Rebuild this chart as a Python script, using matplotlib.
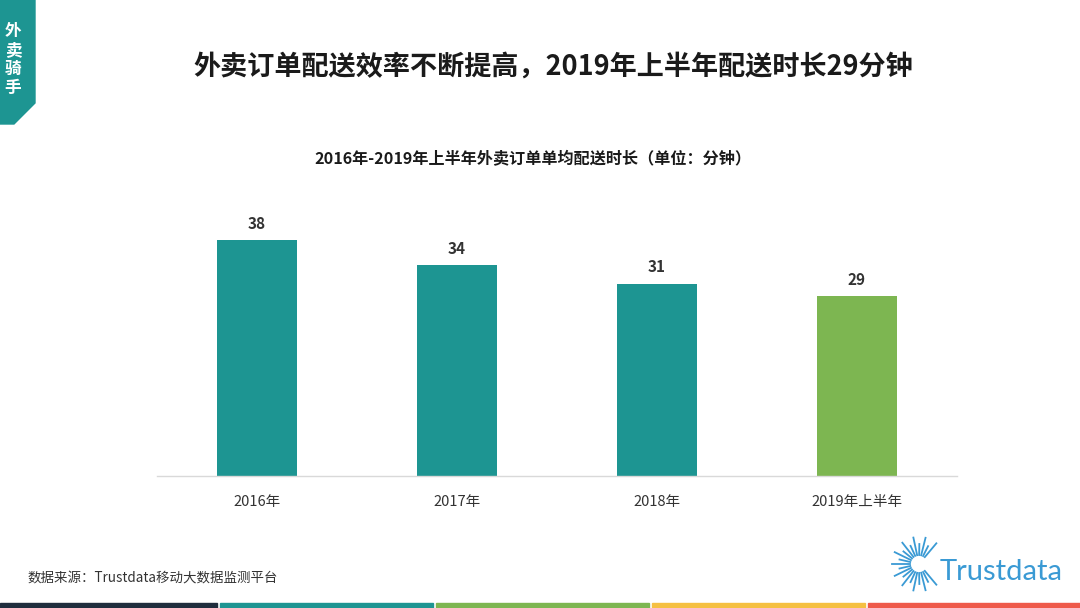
import matplotlib
matplotlib.use("Agg")
import matplotlib.pyplot as plt
from matplotlib.patches import Polygon, Rectangle
import numpy as np

plt.rcParams['font.family'] = ['Noto Sans CJK SC', 'DejaVu Sans']

categories = ["2016年", "2017年", "2018年", "2019年上半年"]
values = [38, 34, 31, 29]
bar_colors = ["#1d9592", "#1d9592", "#1d9592", "#7db651"]

title = "外卖订单配送效率不断提高，2019年上半年配送时长29分钟"
subtitle = "2016年-2019年上半年外卖订单单均配送时长（单位：分钟）"
source = "数据来源：Trustdata移动大数据监测平台"
strip_colors = ["#1f2d3d", "#1d9592", "#7db651", "#f5c042", "#ee5a4a"]

W, H = 1080, 608
fig = plt.figure(figsize=(W / 100, H / 100), dpi=100)

def fx(x):
  return x / W
def fy(y):
  return 1 - y / H

# main bar chart, baseline at y=476px, 800px wide
ax = fig.add_axes([fx(157), fy(476), fx(800), 248 / H])
x = np.arange(len(categories))
ax.bar(x, values, width=0.4, color=bar_colors, zorder=2)
for xi, v in zip(x, values):
  ax.annotate(str(v), (xi, v), xytext=(0, 6), textcoords="offset points",
              ha="center", va="bottom", fontsize=11, fontweight="bold", color="#333333")
ax.set_xlim(-0.5, len(categories) - 0.5)
ax.set_ylim(0, 40)
ax.set_xticks(x)
ax.set_xticklabels(categories, fontsize=10.5, color="#333333")
ax.tick_params(axis="x", length=0, pad=14)
ax.set_yticks([])
for s in ["top", "right", "left"]:
  ax.spines[s].set_visible(False)
ax.spines["bottom"].set_color("#d9d9d9")
ax.spines["bottom"].set_linewidth(1)

# titles
fig.text(fx(553), fy(67), title, ha="center", va="center", fontsize=19.5,
         fontweight="bold", color="#1a1a1a")
fig.text(fx(533), fy(159), subtitle, ha="center", va="center", fontsize=11.6,
         fontweight="bold", color="#1a1a1a")
fig.text(fx(27), fy(578), source, ha="left", va="center", fontsize=9.7, color="#333333")

# left tag
tag = Polygon([[0, 1], [fx(35), 1], [fx(35), fy(103)], [fx(14), fy(124)], [0, fy(124)]],
              closed=True, transform=fig.transFigure, color="#1d9592", zorder=0)
fig.patches.append(tag)
for i, ch in enumerate("外卖骑手"):
  fig.text(fx(13), fy(31 + i * 19), ch, ha="center", va="center", fontsize=12,
           fontweight="bold", color="white")

# bottom strips
edges = [0, 217, 433, 649, 865, 1080]
for i, c in enumerate(strip_colors):
  x0 = edges[i] + (0 if i == 0 else 3)
  fig.patches.append(Rectangle((fx(x0), 0), fx(edges[i + 1] - x0), 5 / H,
                               transform=fig.transFigure, color=c))

# logo
lax = fig.add_axes([0, 0, 1, 1], zorder=-1)
lax.set_xlim(0, W)
lax.set_ylim(H, 0)
lax.axis("off")
cx, cy = 919, 564
for k, a in enumerate(np.arange(50, 320, 13)):
  r1 = 9
  r2 = 27 if k % 2 == 0 else 20
  t = np.deg2rad(a)
  lax.plot([cx + r1 * np.cos(t), cx + r2 * np.cos(t)],
           [cy - r1 * np.sin(t), cy - r2 * np.sin(t)], color="#3a9ad4", lw=1.3)
fig.text(fx(1001), fy(572), "Trustdata", ha="center", va="center", fontsize=21,
         color="#3a9ad4", family=["Lato", "DejaVu Sans"])

fig.savefig("out.png", dpi=100)
